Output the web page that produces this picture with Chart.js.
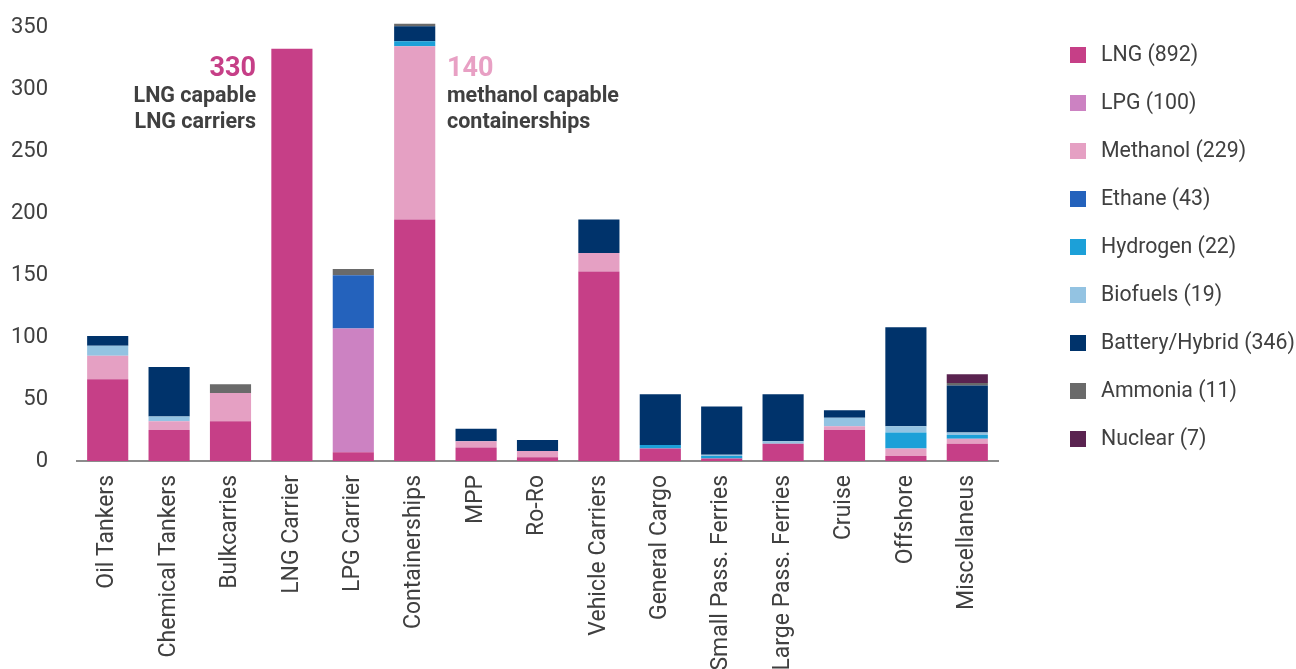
<!DOCTYPE html>
<html>
<head>
<meta charset="utf-8">
<script src="https://cdn.jsdelivr.net/npm/chart.js@4.4.0/dist/chart.umd.min.js"></script>
<style>
  html, body { margin: 0; padding: 0; background: #fff; }
  #wrap { width: 1296px; height: 669px; position: relative; }
</style>
</head>
<body>
<div id="wrap"><canvas id="chartBar"></canvas></div>
<script>
const categories = ["Oil Tankers", "Chemical Tankers", "Bulkcarries", "LNG Carrier", "LPG Carrier",
  "Containerships", "MPP", "Ro-Ro", "Vehicle Carriers", "General Cargo", "Small Pass. Ferries",
  "Large Pass. Ferries", "Cruise", "Offshore", "Miscellaneus"];

const lng      = [66, 25, 32, 333, 7, 195, 11, 3, 153, 10, 2, 14, 25, 4, 14];
const lpg      = [0, 0, 0, 0, 100, 0, 0, 0, 0, 0, 0, 0, 0, 0, 0];
const methanol = [19, 7, 23, 0, 0, 140, 5, 5, 15, 0, 0, 0, 3, 6, 4];
const ethane   = [0, 0, 0, 0, 43, 0, 0, 0, 0, 0, 0, 0, 0, 0, 0];
const hydrogen = [0, 0, 0, 0, 0, 4, 0, 0, 0, 3, 2, 0, 0, 13, 3];
const biofuels = [8, 4, 0, 0, 0, 0, 0, 0, 0, 0, 1, 2, 7, 5, 2];
const battery  = [8, 40, 0, 0, 0, 12, 10, 9, 27, 41, 39, 38, 6, 80, 38];
const ammonia  = [0, 0, 7, 0, 5, 2, 0, 0, 0, 0, 0, 0, 0, 0, 2];
const nuclear  = [0, 0, 0, 0, 0, 0, 0, 0, 0, 0, 0, 0, 0, 0, 7];

const seriesNames = ["LNG (892)", "LPG (100)", "Methanol (229)", "Ethane (43)", "Hydrogen (22)",
  "Biofuels (19)", "Battery/Hybrid (346)", "Ammonia (11)", "Nuclear (7)"];
const yTicks = [0, 50, 100, 150, 200, 250, 300, 350];

const colors = ["#c63f87", "#cc82c2", "#e5a0c3", "#2462bc", "#1ca0d8", "#93c3e2", "#00336b", "#6a6a6a", "#5a2350"];
const series = [lng, lpg, methanol, ethane, hydrogen, biofuels, battery, ammonia, nuclear];
const textColor = "#404040";

// legend drawn on the right, plus the two callouts
const extras = {
  id: "extras",
  afterDraw(chart) {
    const ctx = chart.ctx;
    ctx.save();
    chart.data.datasets.forEach((ds, i) => {
      const y = 55 + i * 48;
      ctx.fillStyle = ds.backgroundColor;
      ctx.fillRect(1070, y - 8, 16, 16);
      ctx.fillStyle = textColor;
      ctx.font = "21.3px Roboto";
      ctx.textBaseline = "middle";
      ctx.textAlign = "left";
      ctx.fillText(ds.label, 1101, y + 1);
    });

    ctx.textBaseline = "middle";
    ctx.textAlign = "right";
    ctx.font = "bold 27px Roboto";
    ctx.fillStyle = "#c63f87";
    ctx.fillText("330", 256, 69);
    ctx.font = "bold 21.5px Roboto";
    ctx.fillStyle = textColor;
    ctx.fillText("LNG capable", 256, 97);
    ctx.fillText("LNG carriers", 256, 123);

    ctx.textAlign = "left";
    ctx.font = "bold 27px Roboto";
    ctx.fillStyle = "#e8a0c4";
    ctx.fillText("140", 447, 69);
    ctx.font = "bold 21.5px Roboto";
    ctx.fillStyle = textColor;
    ctx.fillText("methanol capable", 447, 97);
    ctx.fillText("containerships", 447, 123);
    ctx.restore();
  }
};

const ctx = document.getElementById("chartBar").getContext("2d");
new Chart(ctx, {
  type: "bar",
  data: {
    labels: categories,
    datasets: series.map((data, i) => ({
      label: seriesNames[i],
      data: data,
      backgroundColor: colors[i],
      borderWidth: 0,
      barPercentage: 0.67,
      categoryPercentage: 1
    }))
  },
  options: {
    responsive: true,
    maintainAspectRatio: false,
    animation: false,
    layout: { padding: { top: 0, right: 298, bottom: 0, left: 0 } },
    plugins: {
      legend: { display: false },
      tooltip: { enabled: false }
    },
    scales: {
      x: {
        stacked: true,
        grid: { display: false, drawTicks: false },
        border: { display: true, color: "#8c8c8c", width: 2 },
        ticks: {
          color: textColor,
          font: { family: "Roboto", size: 23 },
          minRotation: 90,
          maxRotation: 90,
          autoSkip: false,
          padding: 14
        },
        afterFit(scale) { scale.height = 208; }
      },
      y: {
        stacked: true,
        min: 0,
        max: 360,
        grid: { display: false, drawTicks: true, tickLength: 27 },
        border: { display: false },
        ticks: {
          color: textColor,
          font: { family: "Roboto", size: 22 },
          padding: 2
        },
        afterBuildTicks(scale) {
          scale.ticks = yTicks.map((v) => ({ value: v }));
        },
        afterFit(scale) { scale.width = 77; }
      }
    }
  },
  plugins: [extras]
});
</script>
</body>
</html>
